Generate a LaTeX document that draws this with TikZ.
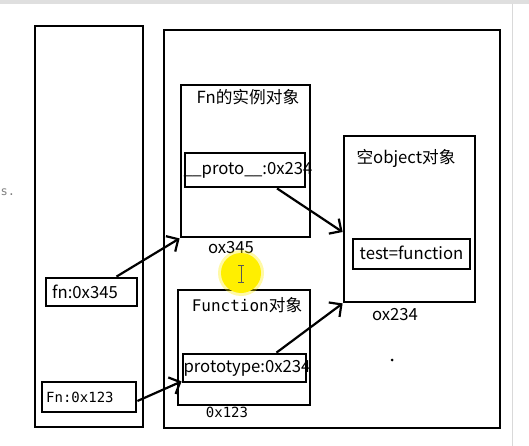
\documentclass[tikz,border=0pt]{standalone}
\usepackage{fontspec}
\newfontfamily\cjk{Noto Sans CJK SC}
\newfontfamily\mono{DejaVu Sans Mono}
\usetikzlibrary{arrows.meta}
\definecolor{hilite}{HTML}{FFEF00}
\tikzset{
  frame/.style={draw, line width=2.8pt, inner sep=0pt},
  lbl/.style={inner sep=0pt, font=\cjk\fontsize{16.7}{19}\selectfont},
  code/.style={inner sep=0pt, font=\mono\fontsize{14}{17}\selectfont},
  ptr/.style={line width=2.2pt, -{Straight Barb[length=9pt,width=18pt,line width=2.2pt]}},
}
\begin{document}
\begin{tikzpicture}[x=1pt, y=-1pt]
\useasboundingbox[fill=white] (0,0) rectangle (529,446);
\fill[gray!25] (0,0) rectangle (529,4);
\draw[gray!30, line width=1pt] (512,4) -- (512,446);
\node[code, text=gray, anchor=west, font=\mono\fontsize{12}{14}\selectfont] (cut) at (0.5,192) {s.};
% stack and heap
\node[frame, minimum width=108pt, minimum height=401pt] (stack) at (89,226.5) {};
\node[frame, minimum width=336pt, minimum height=398pt] (heap) at (332,229) {};
% Fn instance
\node[frame, minimum width=129pt, minimum height=152pt] (inst) at (245.5,161) {};
\node[lbl] (tinst) at (248,97) {Fn的实例对象};
\node[frame, minimum width=120pt, minimum height=34pt] (proto) at (245,170) {};
\node[lbl] (tproto) at (248,170) {\_\kern-0.5pt\_proto\_\kern-0.5pt\_:0x234};
\node[lbl] (ainst) at (231,248) {ox345};
% empty object
\node[frame, minimum width=131pt, minimum height=166pt] (empty) at (409.5,219) {};
\node[lbl] (tempty) at (406,158) {空object对象};
\node[frame, minimum width=117pt, minimum height=30pt] (testf) at (411.5,254) {};
\node[lbl] (ttestf) at (411.5,253) {test=function};
\node[lbl] (aempty) at (395,315) {ox234};
% Function object
\node[frame, minimum width=132pt, minimum height=115pt] (func) at (244,347.5) {};
\node[lbl] (tfunc) at (247,305) {{\mono\fontsize{16}{19}\selectfont Function}对象};
\node[frame, minimum width=123pt, minimum height=28pt] (ptype) at (244.5,368) {};
\node[lbl] (tptype) at (247,368) {prototype:0x234};
\node[code] (afunc) at (227,412) {0x123};
% variables
\node[frame, minimum width=91pt, minimum height=28pt] (fnvar) at (91.5,292) {};
\node[lbl, anchor=west] (tfnvar) at (52,292) {fn:0x345};
\node[frame, minimum width=94pt, minimum height=30pt] (Fnvar) at (89,397) {};
\node[code, anchor=west] (tFnvar) at (46,397) {Fn:0x123};
% pointers
\draw[ptr] ([xshift=25pt]fnvar.north) -- (inst.south west);
\draw[ptr] ([xshift=32pt]proto.south) -- ([yshift=-13pt]empty.west);
\draw[ptr] ([xshift=32pt]ptype.north) -- (empty.south west);
\draw[ptr] ([yshift=-4pt]Fnvar.east) -- ([yshift=2pt]ptype.south west);
% cursor
\fill[hilite, opacity=0.35] (241,273) circle (23);
\fill[hilite] (241,273) circle (20);
\draw[gray!70!black, line width=1pt] (241,265) -- (241,282) (238,265) -- (244,265) (238,282) -- (244,282);
\fill (392,360) circle (1.5);
\end{tikzpicture}
\end{document}
